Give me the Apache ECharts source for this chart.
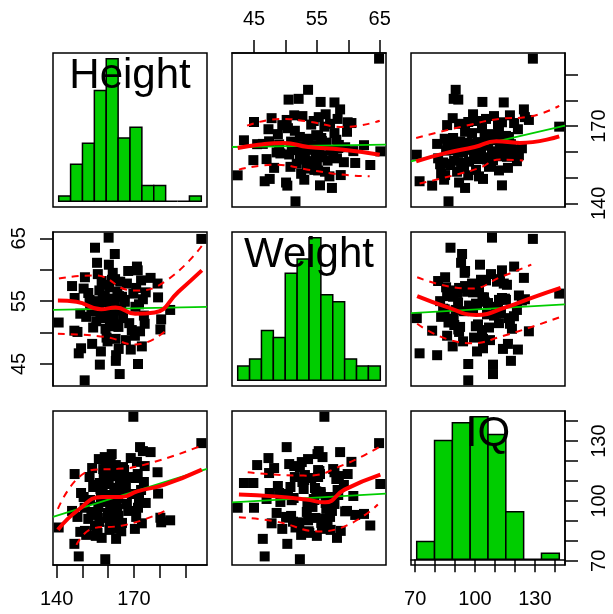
<!DOCTYPE html>
<html>
<head>
<meta charset="utf-8">
<script src="https://cdn.jsdelivr.net/npm/echarts@6/dist/echarts.min.js"></script>
<style>
html, body { margin: 0; padding: 0; background: #fff; }
#chart { width: 613px; height: 614px; }
</style>
</head>
<body>
<div id="chart"></div>
<script>
var varNames = ['Height', 'Weight', 'IQ'];

// one entry per person (same order in all three)
var heightVals = [140.8, 146.9, 148.6, 148.1, 147.0, 149.2, 146.0, 149.5, 150.9, 153.8,
  154.9, 151.5, 152.3, 153.0, 151.0, 154.2, 152.8, 153.5, 150.5, 156.8,
  158.9, 155.7, 157.5, 156.2, 159.4, 155.4, 157.9, 158.3, 156.6, 159.0,
  155.9, 157.2, 158.7, 156.0, 159.6, 157.0, 158.1, 155.2, 159.8, 156.4,
  160.2, 164.5, 163.0, 160.8, 161.5, 162.0, 162.7, 163.4, 161.2, 164.0,
  160.5, 162.4, 163.8, 161.8, 160.1, 164.2, 162.9, 161.0, 163.6, 160.7,
  164.7, 162.2, 161.4, 163.1, 160.3, 164.1, 162.6, 169.8, 165.8, 166.5,
  167.3, 168.2, 165.4, 166.9, 168.8, 167.8, 165.1, 169.2, 166.2, 171.6,
  171.5, 172.8, 170.4, 173.5, 174.2, 172.0, 170.9, 173.9, 171.2, 174.6,
  172.4, 170.6, 173.1, 179.2, 179.4, 176.5, 184.1, 180.3, 180.6, 196.2];
var weightVals = [51.6, 50.3, 46.7, 50.1, 55.5, 53.0, 57.4, 47.5, 42.4, 48.2,
  63.5, 52.5, 56.3, 54.6, 58.8, 50.8, 55.2, 53.4, 57.0, 44.9,
  52.3, 61.1, 58.2, 54.3, 49.2, 51.8, 55.6, 53.1, 56.7, 50.6,
  53.8, 47.0, 55.9, 59.3, 54.8, 52.9, 57.6, 55.0, 48.6, 53.6,
  65.1, 43.4, 45.5, 54.2, 58.4, 52.2, 58.5, 53.5, 55.4, 50.9,
  57.2, 54.7, 51.3, 59.5, 53.0, 55.8, 49.0, 52.6, 56.5, 51.2,
  58.1, 51.0, 55.1, 46.4, 60.8, 47.4, 62.5, 56.2, 52.3, 54.9,
  57.8, 51.5, 55.7, 48.8, 47.3, 59.8, 53.7, 50.4, 55.2, 45.0,
  59.9, 58.3, 49.5, 55.3, 51.4, 54.5, 57.1, 52.7, 60.5, 56.4,
  50.2, 54.1, 47.8, 57.8, 55.6, 58.7, 53.6, 50.5, 52.1, 64.9];
var iqVals = [86.7, 78.5, 72.2, 92.0, 113.5, 84.5, 95.0, 104.0, 96.6, 116.5,
  87.7, 83.0, 91.0, 100.5, 85.0, 107.0, 112.0, 94.5, 102.0, 109.0,
  70.8, 93.0, 81.5, 97.0, 99.5, 87.0, 104.5, 113.0, 89.5, 118.5,
  84.0, 101.0, 122.0, 108.0, 91.5, 106.0, 116.0, 82.5, 94.0, 121.0,
  108.5, 109.0, 118.0, 97.5, 103.0, 88.5, 112.5, 99.0, 115.0, 92.5,
  85.5, 106.5, 101.5, 94.8, 110.5, 86.0, 104.0, 119.5, 96.0, 89.6,
  111.0, 100.4, 123.5, 81.0, 102.5, 114.0, 93.5, 142.2, 117.0, 104.8,
  98.5, 112.0, 89.0, 107.5, 121.5, 95.0, 84.8, 103.5, 115.5, 96.6,
  113.5, 105.5, 86.0, 125.0, 117.5, 101.0, 92.0, 109.5, 119.6, 99.0,
  127.0, 111.5, 88.8, 114.4, 103.7, 124.5, 90.3, 91.6, 89.3, 129.0];

// histograms on the diagonal
var heightBreaks = [140, 145, 150, 155, 160, 165, 170, 175, 180, 185, 190, 195, 200];
var heightCounts = [1, 7, 11, 21, 27, 12, 14, 3, 3, 0, 0, 1];
var weightBreaks = [42, 44, 46, 48, 50, 52, 54, 56, 58, 60, 62, 64, 66];
var weightCounts = [2, 3, 7, 6, 15, 17, 20, 12, 11, 3, 2, 2];
var iqBreaks = [70, 80, 90, 100, 110, 120, 130, 140, 150];
var iqCounts = [3, 20, 23, 24, 21, 8, 0, 1];

// axis limits and ticks
var heightLim = [138.6, 198.4];
var weightLim = [41.5, 66.0];
var iqLim = [67.9, 145.1];
var heightTicks = [140, 150, 160, 170, 180, 190];
var heightLabels = [140, 170];
var weightTicks = [45, 50, 55, 60, 65];
var weightLabels = [45, 55, 65];
var iqTicks = [70, 80, 90, 100, 110, 120, 130, 140];
var iqLabels = [70, 100, 130];

// fitted lines, [x, y] = [column var, row var]
// row Height / col Weight
var regHW = [[41.5, 161.9], [66.0, 162.8]];
var loessHW = [[42.4, 161.5], [45.7, 162.8], [49.7, 163.5], [53.6, 161.9], [58.9, 160.9], [65.0, 158.9]];
var upperHW = [[43.9, 170.2], [49.4, 172.8], [53.6, 171.8], [59.4, 169.7], [65.0, 172.1]];
var lowerHW = [[42.6, 153.1], [48.4, 155.0], [53.6, 153.1], [58.9, 151.2], [63.4, 150.5]];
// row Height / col IQ
var regHI = [[67.9, 156.3], [145.1, 170.2]];
var loessHI = [[70.5, 156.3], [85.6, 159.6], [99.8, 161.9], [110.7, 164.1], [122.4, 163.5], [142.2, 166.0]];
var upperHI = [[70.5, 165.4], [95.6, 170.2], [112.4, 172.8], [125.8, 173.5], [142.2, 177.9]];
var lowerHI = [[72.2, 147.7], [92.3, 151.5], [102.3, 153.8], [112.4, 157.0], [124.1, 156.7]];
// row Weight / col Height
var regWH = [[138.6, 53.6], [198.4, 54.1]];
var loessWH = [[140.5, 55.1], [147.7, 54.9], [157.3, 53.7], [162.9, 54.0], [170.5, 53.0], [178.1, 53.2], [187.3, 56.5], [196.4, 59.9]];
var upperWH = [[140.9, 58.6], [154.5, 59.1], [169.8, 56.7], [182.0, 58.1], [196.4, 63.8]];
var lowerWH = [[140.5, 49.8], [159.1, 49.3], [170.5, 48.1], [183.5, 50.7]];
// row Weight / col IQ
var regWI = [[67.9, 53.1], [145.1, 54.5]];
var loessWI = [[71.0, 55.8], [85.7, 54.1], [100.6, 52.8], [115.3, 54.0], [129.1, 55.6], [142.9, 57.1]];
var upperWI = [[71.0, 58.8], [97.6, 57.0], [113.4, 58.9], [128.2, 60.8]];
var lowerWI = [[71.0, 51.4], [97.6, 48.3], [113.4, 49.4], [142.9, 52.5]];
// row IQ / col Height
var regIH = [[138.6, 92.0], [198.4, 116.1]];
var loessIH = [[140.5, 85.6], [148.5, 95.6], [157.6, 102.0], [165.2, 102.0], [171.3, 104.8], [181.9, 108.2], [196.4, 115.7]];
var upperIH = [[140.5, 96.0], [154.5, 115.7], [163.7, 116.1], [175.9, 118.8], [196.4, 127.8]];
var lowerIH = [[147.7, 78.0], [154.5, 86.4], [165.2, 87.6], [183.5, 96.0]];
// row IQ / col Weight
var regIW = [[41.5, 99.3], [66.0, 103.7]];
var loessIW = [[42.6, 103.2], [48.3, 102.3], [53.3, 100.7], [56.3, 99.3], [59.4, 105.7], [65.1, 113.2]];
var upperIW = [[44.0, 114.4], [53.3, 112.7], [59.4, 118.3], [65.1, 127.4]];
var lowerIW = [[42.6, 91.8], [48.3, 89.8], [55.7, 84.7], [64.7, 98.2]];

var vals = [heightVals, weightVals, iqVals];
var lims = [heightLim, weightLim, iqLim];
var ticks = [heightTicks, weightTicks, iqTicks];
var labels = [heightLabels, weightLabels, iqLabels];
var hists = [[heightBreaks, heightCounts], [weightBreaks, weightCounts], [iqBreaks, iqCounts]];
var fits = {
  '0-1': [regHW, loessHW, upperHW, lowerHW],
  '0-2': [regHI, loessHI, upperHI, lowerHI],
  '1-0': [regWH, loessWH, upperWH, lowerWH],
  '1-2': [regWI, loessWI, upperWI, lowerWI],
  '2-0': [regIH, loessIH, upperIH, lowerIH],
  '2-1': [regIW, loessIW, upperIW, lowerIW]
};

var GREEN = '#00CD00', RED = '#FF0000';
var P0 = 53, STEP = 179, SIZE = 154;
var FONT = 'Liberation Sans';

function xPos(r, c) {
  if (r === 0 && c === 1) return 'top';
  if (r === 2 && (c === 0 || c === 2)) return 'bottom';
  return null;
}
function yPos(r, c) {
  if (c === 2 && (r === 0 || r === 2)) return 'right';
  if (c === 0 && r === 1) return 'left';
  return null;
}

function makeAxis(isY, v, pos, gi) {
  var ax = { type: 'value', gridIndex: gi, min: lims[v][0], max: lims[v][1], splitLine: { show: false } };
  if (!pos) { ax.show = false; return ax; }
  ax.position = pos;
  ax.axisLine = { show: true, lineStyle: { color: '#000', width: 1.5 } };
  ax.axisTick = { show: true, length: 13, lineStyle: { color: '#000', width: 1.5 }, customValues: ticks[v] };
  ax.axisLabel = {
    show: true, customValues: labels[v], color: '#000', fontSize: 20, fontFamily: FONT,
    margin: 24, rotate: isY ? 90 : 0
  };
  return ax;
}

function histSeries(br, cnt, gi) {
  // hist() style scale: breaks range and 0..max count, each padded 4%
  var span = br[br.length - 1] - br[0];
  var maxCount = Math.max.apply(null, cnt);
  var hxi = xAxes.length, hyi = yAxes.length;
  xAxes.push({ type: 'value', gridIndex: gi, show: false, min: br[0] - 0.04 * span, max: br[br.length - 1] + 0.04 * span });
  yAxes.push({ type: 'value', gridIndex: gi, show: false, min: -0.04 * maxCount, max: 1.04 * maxCount });
  return {
    type: 'custom', xAxisIndex: hxi, yAxisIndex: hyi, silent: true,
    data: cnt.map(function (n, i) { return [br[i], br[i + 1], n]; }),
    encode: { x: [0, 1], y: 2 },
    renderItem: function (params, api) {
      var p0 = api.coord([api.value(0), 0]);
      var p1 = api.coord([api.value(1), api.value(2)]);
      return {
        type: 'rect',
        shape: { x: p0[0], y: p1[1], width: p1[0] - p0[0], height: p0[1] - p1[1] },
        style: { fill: GREEN, stroke: '#000', lineWidth: 1.5 }
      };
    }
  };
}

var grids = [], xAxes = [], yAxes = [], series = [];

for (var r = 0; r < 3; r++) {
  for (var c = 0; c < 3; c++) {
    var gi = grids.length;
    grids.push({
      left: P0 + c * STEP, top: P0 + r * STEP, width: SIZE, height: SIZE,
      show: true, borderColor: '#000', borderWidth: 1.5, backgroundColor: 'transparent'
    });
    var xi = xAxes.length, yi = yAxes.length;
    xAxes.push(makeAxis(false, c, xPos(r, c), gi));
    yAxes.push(makeAxis(true, r, yPos(r, c), gi));

    if (r === c) {
      series.push(histSeries(hists[r][0], hists[r][1], gi));
    } else {
      var xs = vals[c], ys = vals[r];
      series.push({
        type: 'scatter', xAxisIndex: xi, yAxisIndex: yi, silent: true,
        symbol: 'rect', symbolSize: 10, itemStyle: { color: '#000', opacity: 1 },
        data: xs.map(function (x, i) { return [x, ys[i]]; })
      });
      var f = fits[r + '-' + c];
      series.push({ type: 'line', xAxisIndex: xi, yAxisIndex: yi, data: f[0], symbol: 'none', silent: true,
        lineStyle: { color: GREEN, width: 1.8 } });
      series.push({ type: 'line', xAxisIndex: xi, yAxisIndex: yi, data: f[1], symbol: 'none', smooth: true, silent: true,
        lineStyle: { color: RED, width: 4 } });
      series.push({ type: 'line', xAxisIndex: xi, yAxisIndex: yi, data: f[2], symbol: 'none', smooth: true, silent: true,
        lineStyle: { color: RED, width: 2, type: [7, 6] } });
      series.push({ type: 'line', xAxisIndex: xi, yAxisIndex: yi, data: f[3], symbol: 'none', smooth: true, silent: true,
        lineStyle: { color: RED, width: 2, type: [7, 6] } });
    }
  }
}

var chart = echarts.init(document.getElementById('chart'));
chart.setOption({
  animation: false,
  backgroundColor: '#fff',
  grid: grids,
  xAxis: xAxes,
  yAxis: yAxes,
  series: series,
  graphic: varNames.map(function (name, k) {
    return {
      type: 'text', z: 100,
      x: P0 + k * STEP + SIZE / 2, y: P0 + k * STEP + 23,
      style: { text: name, font: '42px "' + FONT + '"', fill: '#000',
        align: 'center', verticalAlign: 'middle', textAlign: 'center', textVerticalAlign: 'middle' }
    };
  })
});
</script>
</body>
</html>
